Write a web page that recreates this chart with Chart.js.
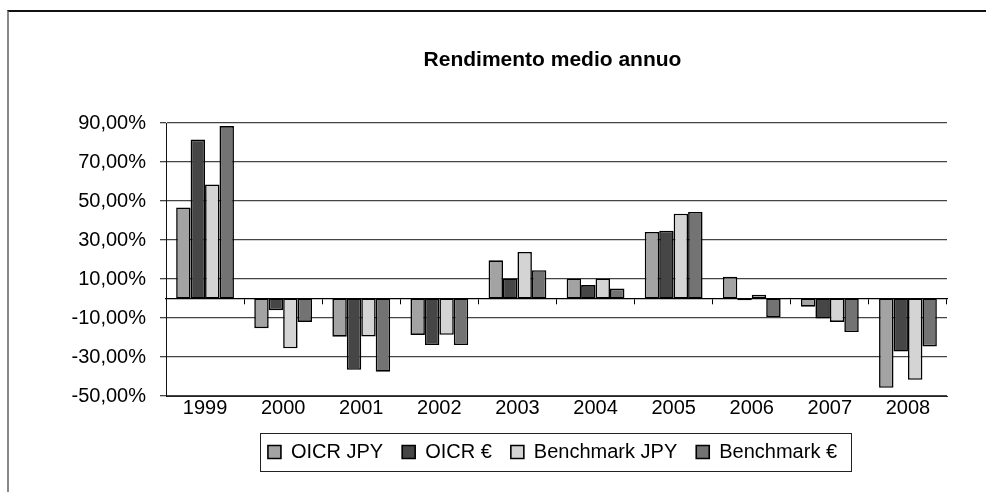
<!DOCTYPE html>
<html>
<head>
  <meta charset="UTF-8">
  <title>Rendimento medio annuo</title>
  <script src="https://cdn.jsdelivr.net/npm/chart.js"></script>
  <style>
    html, body { margin: 0; padding: 0; background: #fff; overflow: hidden; width: 986px; height: 492px; }
    #frame { position: absolute; left: 7px; top: 10px; width: 1200px; height: 600px;
             border-top: 2px solid #111; border-left: 2px solid #888; }
    #chart { position: absolute; left: 10px; top: 13px; }
  </style>
</head>
<body>
  <div id="frame"></div>
  <canvas id="chart" width="1085" height="470"></canvas>

  <script>
    const years = ["1999", "2000", "2001", "2002", "2003", "2004", "2005", "2006", "2007", "2008"];
    const oicrJpy = [46.7, -15.2, -19.6, -18.7, 19.6, 10.3, 34.1, 11.1, -4.2, -45.8];
    const oicrEur = [81.5, -6.0, -36.6, -23.9, 10.3, 6.9, 34.8, -0.9, -10.3, -27.2];
    const benchJpy = [58.5, -25.5, -19.5, -18.6, 23.9, 10.3, 43.5, 1.9, -12.0, -41.7];
    const benchEur = [88.4, -12.0, -37.5, -23.9, 14.5, 5.1, 44.4, -9.5, -17.2, -24.6];
    const yTickValues = [-50, -30, -10, 10, 30, 50, 70, 90];

    const font = "'Liberation Sans', Arial, sans-serif";

    function series(label, data, color) {
      return {
        label: label,
        data: data,
        backgroundColor: color,
        borderColor: "#000",
        borderWidth: 1.6,
        borderSkipped: false,
        categoryPercentage: 0.74,
        barPercentage: 1.0
      };
    }

    // cornice attorno alla legenda, come in Excel
    const legendFrame = {
      id: "legendFrame",
      afterDraw(chart) {
        const boxes = chart.legend.legendHitBoxes;
        if (!boxes || !boxes.length) return;
        const first = boxes[0];
        const last = boxes[boxes.length - 1];
        const cy = first.top + first.height / 2;
        const ctx = chart.ctx;
        ctx.save();
        ctx.strokeStyle = "#222";
        ctx.lineWidth = 1;
        const x1 = Math.round(first.left - 8) + 0.5;
        const x2 = Math.round(last.left + last.width + 14) + 0.5;
        ctx.strokeRect(x1, Math.round(cy - 19) + 0.5, x2 - x1, 38);
        ctx.restore();
      }
    };

    new Chart(document.getElementById("chart"), {
      type: "bar",
      data: {
        labels: years,
        datasets: [
          series("OICR JPY", oicrJpy, "#a3a3a3"),
          series("OICR €", oicrEur, "#464646"),
          series("Benchmark JPY", benchJpy, "#d4d4d4"),
          series("Benchmark €", benchEur, "#737373")
        ]
      },
      options: {
        responsive: false,
        animation: false,
        layout: { padding: { left: 0, right: 0, top: 0, bottom: 11 } },
        scales: {
          x: {
            position: "bottom",
            grid: { display: false, drawTicks: false },
            border: { display: true, color: "#222", width: 1 },
            ticks: { color: "#000", padding: 0, font: { family: font, size: 20, lineHeight: 1.2 }, maxRotation: 0 },
            afterFit(scale) { scale.height = 27; }
          },
          xZero: {
            type: "category",
            axis: "x",
            position: { y: 0 },
            offset: true,
            grid: { offset: true, drawOnChartArea: false, drawTicks: true, tickLength: 5, color: "#000" },
            border: { display: true, color: "#000", width: 1.3 },
            ticks: { display: false }
          },
          y: {
            min: -50,
            max: 90,
            afterBuildTicks(scale) { scale.ticks = yTickValues.map(v => ({ value: v })); },
            grid: { color: "#444", lineWidth: 1.3, tickLength: 6 },
            border: { display: true, color: "#111", width: 1 },
            ticks: {
              color: "#000",
              padding: 14,
              font: { family: font, size: 20 },
              callback: v => v.toFixed(2).replace(".", ",") + "%"
            },
            afterFit(scale) { scale.width = 156; }
          },
          yRight: {
            position: "right",
            axis: "y",
            grid: { display: false, drawTicks: false },
            border: { display: false },
            ticks: { display: false },
            afterFit(scale) { scale.width = 148; }
          }
        },
        plugins: {
          title: {
            display: true,
            text: "Rendimento medio annuo",
            color: "#000",
            font: { family: font, size: 21, weight: "bold", lineHeight: 1.2 },
            padding: { top: 34.4, bottom: 50.4 }
          },
          legend: {
            position: "bottom",
            labels: {
              color: "#000",
              boxWidth: 13,
              boxHeight: 13,
              padding: 19,
              font: { family: font, size: 20 }
            }
          },
          tooltip: { enabled: false }
        }
      },
      plugins: [legendFrame]
    });
  </script>
</body>
</html>
